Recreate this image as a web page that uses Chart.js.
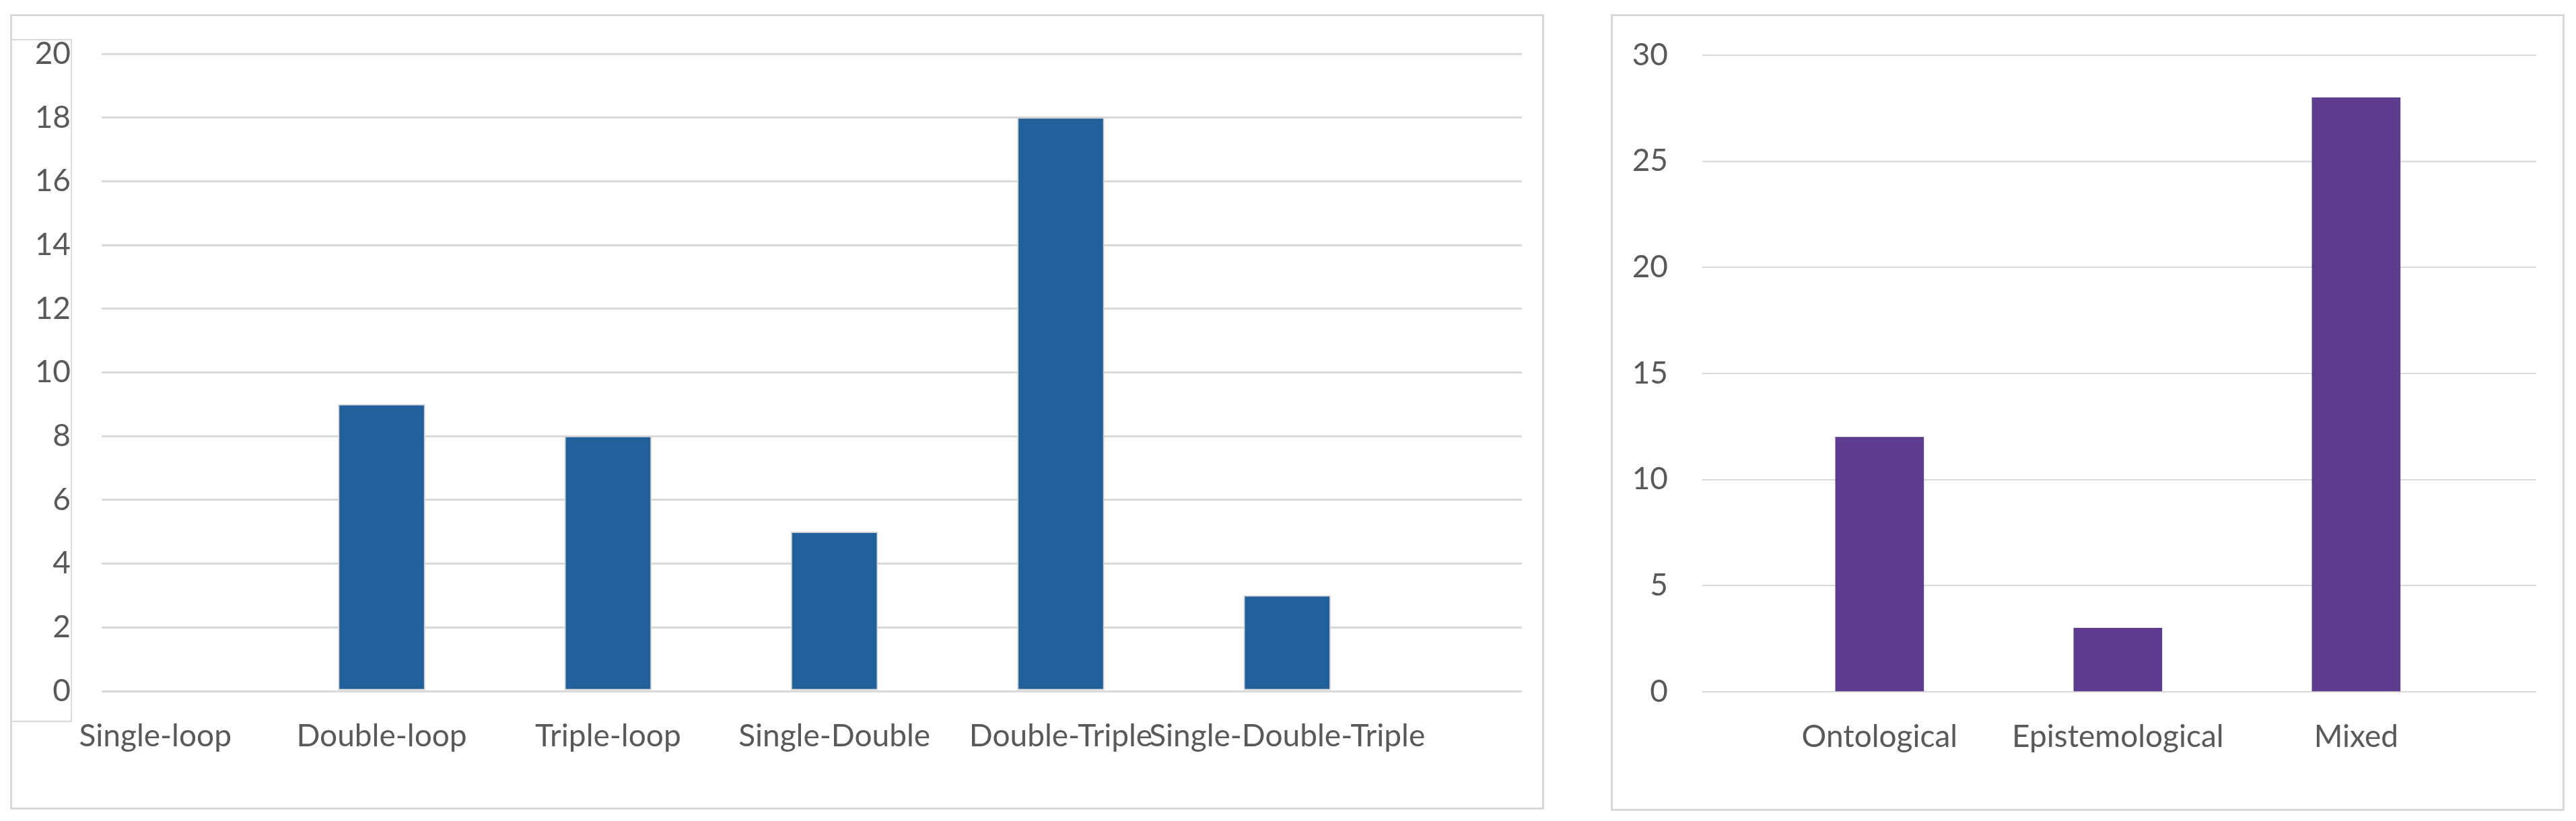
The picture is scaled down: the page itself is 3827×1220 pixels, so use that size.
<!DOCTYPE html>
<html>

<head>
  <meta charset="utf-8" />
  <title>Loop learning and assumption types</title>
  <script src="https://cdn.jsdelivr.net/npm/chart.js@4.4.1/dist/chart.umd.min.js"></script>
  <style>
    body { margin: 0; background: #fff; width: 3827px; height: 1220px; position: relative; overflow: hidden; }
    .frame { position: absolute; box-sizing: border-box; border: 3px solid #d9d9d9; }
    .holder { position: absolute; }
    #loopFrame { left: 15px; top: 21px; width: 2279px; height: 1182px; }
    #tickFrame { left: 15px; top: 58px; width: 92px; height: 1015px; border-width: 2px; }
    #typeFrame { left: 2393px; top: 21px; width: 1417px; height: 1184px; }
    #loopHolder { left: 15px; top: 21px; width: 2279px; height: 1182px; }
    #typeHolder { left: 2393px; top: 21px; width: 1417px; height: 1184px; }
  </style>
</head>

<body>
  <div class="frame" id="loopFrame"></div>
  <div class="frame" id="tickFrame"></div>
  <div class="frame" id="typeFrame"></div>
  <div class="holder" id="loopHolder"><canvas id="loopChart"></canvas></div>
  <div class="holder" id="typeHolder"><canvas id="typeChart"></canvas></div>
  <script>
    var loopLabels = ["Single-loop", "Double-loop", "Triple-loop", "Single-Double", "Double-Triple", "Single-Double-Triple"];
    var loopCounts = [0, 9, 8, 5, 18, 3];
    var loopYTicks = [0, 2, 4, 6, 8, 10, 12, 14, 16, 18, 20];

    var typeLabels = ["Ontological", "Epistemological", "Mixed"];
    var typeCounts = [12, 3, 28];
    var typeYTicks = [0, 5, 10, 15, 20, 25, 30];

    Chart.defaults.font.family = "Lato";
    Chart.defaults.font.size = 46;
    Chart.defaults.color = "#595959";

    function barChart(id, labels, counts, yTicks, look) {
      var ctx = document.getElementById(id).getContext("2d");
      return new Chart(ctx, {
        type: 'bar',
        data: {
          datasets: [{
            data: counts.map(function(v, i) { return { x: i, y: v }; }),
            backgroundColor: look.color,
            borderColor: look.edge,
            borderWidth: look.edgeWidth,
            borderSkipped: false,
            barThickness: look.barWidth
          }]
        },
        options: {
          responsive: true,
          maintainAspectRatio: false,
          animation: false,
          layout: { padding: { top: look.top, right: look.right, bottom: 0, left: 0 } },
          plugins: { legend: { display: false }, tooltip: { enabled: false } },
          scales: {
            x: {
              type: 'linear',
              offset: false,
              min: look.xMin,
              max: look.xMax,
              grid: { display: false, drawTicks: false, offset: false },
              border: { display: false },
              afterBuildTicks: function(axis) {
                axis.ticks = labels.map(function(l, i) { return { value: i }; });
              },
              afterFit: function(axis) { axis.height = look.axisHeight; },
              ticks: {
                padding: look.labelGap,
                autoSkip: false,
                maxRotation: 0,
                callback: function(v) { return labels[v]; }
              }
            },
            y: {
              min: yTicks[0],
              max: yTicks[yTicks.length - 1],
              afterBuildTicks: function(axis) {
                axis.ticks = yTicks.map(function(v) { return { value: v }; });
              },
              afterFit: function(axis) {
                // fixed axis width; the tick gap should not push the plot down
                axis.width = 136;
                axis.paddingTop = 0;
                axis.paddingBottom = 0;
              },
              grid: { color: "#d9d9d9", lineWidth: look.gridWidth, drawTicks: false },
              border: { display: false },
              ticks: { padding: look.tickGap }
            }
          }
        }
      });
    }

    barChart("loopChart", loopLabels, loopCounts, loopYTicks, {
      color: "#22609b", edge: "#d4d4d4", edgeWidth: 2, barWidth: 129,
      xMin: -0.237, xMax: 6.037,
      top: 59, right: 33, axisHeight: 176,
      labelGap: 40, tickGap: 46, gridWidth: 3
    });

    barChart("typeChart", typeLabels, typeCounts, typeYTicks, {
      color: "#5d3c8f", edge: "#5d3c8f", edgeWidth: 0, barWidth: 131,
      xMin: -0.744, xMax: 2.756,
      top: 61, right: 42, axisHeight: 177,
      labelGap: 40, tickGap: 51, gridWidth: 2
    });
  </script>
</body>

</html>
